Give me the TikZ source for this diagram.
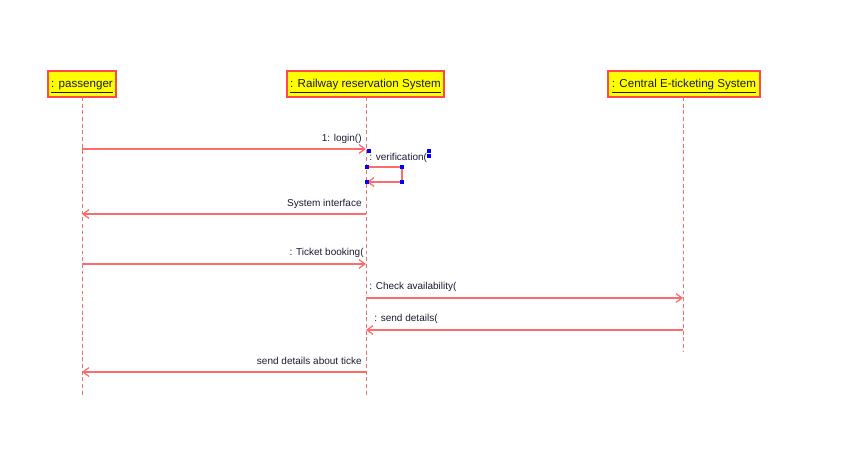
\documentclass[tikz,border=0pt]{standalone}
\usepackage{fontspec}
\setmainfont{Liberation Sans}
\usetikzlibrary{arrows.meta,positioning}
\definecolor{umlred}{HTML}{FF4A4A}
\definecolor{umlline}{HTML}{FF6A6A}
\definecolor{umlyellow}{HTML}{FFFF00}
\definecolor{umlblue}{HTML}{0000FF}
\definecolor{umltext}{HTML}{1A1A33}

\begin{document}
\begin{tikzpicture}[x=0.02cm, y=-0.02cm,
  every node/.style={font=\fontsize{5.7}{7}\selectfont, text=umltext},
  objbox/.style={draw=umlred, fill=umlyellow, line width=0.7pt,
    font=\fontsize{6.6}{8}\selectfont, text height=4.8pt, text depth=1.2pt,
    minimum height=0.52cm, inner sep=1pt},
  lifeline/.style={umlline, line width=0.5pt, dash pattern=on 2.2pt off 1.6pt},
  msg/.style={umlline, line width=0.7pt, -{Straight Barb[length=3.4pt,width=5pt]}},
  msglabel/.style={inner sep=0pt},
  handle/.style={fill=umlblue}]

  % ---- Page frame ----
  \useasboundingbox (0,0) rectangle (852,464);

  % ---- Objects ----
  \node[objbox, minimum width=1.36cm] (pas) at (82,84) {\underline{: passenger}};
  \node[objbox, minimum width=3.14cm] (rrs) at (365.5,84) {\underline{: Railway reservation System}};
  \node[objbox, minimum width=3.04cm] (ces) at (684,84) {\underline{: Central E-ticketing System}};

  % ---- Lifelines ----
  \coordinate (pasEnd) at (82,395);
  \coordinate (rrsEnd) at (366,395);
  \coordinate (cesEnd) at (683,352);
  \draw[lifeline] (82,97) -- (pasEnd);
  \draw[lifeline] (366,97) -- (rrsEnd);
  \draw[lifeline] (683,97) -- (cesEnd);

  % ---- Message anchor points ----
  \coordinate (m1a) at (82,149);   \coordinate (m1b) at (366,149);
  \coordinate (m2a) at (366,214);  \coordinate (m2b) at (82,214);
  \coordinate (m3a) at (82,264);   \coordinate (m3b) at (366,264);
  \coordinate (m4a) at (366,298);  \coordinate (m4b) at (683,298);
  \coordinate (m5a) at (683,330);  \coordinate (m5b) at (366,330);
  \coordinate (m6a) at (366,372);  \coordinate (m6b) at (82,372);

  % ---- Messages ----
  \draw[msg] (m1a) -- (m1b);
  \node[msglabel, anchor=east] at (362,139) {1: login()};

  \draw[msg] (m2a) -- (m2b);
  \node[msglabel, anchor=east] at (362,204) {System interface};

  \draw[msg] (m3a) -- (m3b);
  \node[msglabel, anchor=east] at (364,253) {: Ticket booking(};

  \draw[msg] (m4a) -- (m4b);
  \node[msglabel, anchor=west] at (369,287) {: Check availability(};

  \draw[msg] (m5a) -- (m5b);
  \node[msglabel, anchor=west] at (374,319) {: send details(};

  \draw[msg] (m6a) -- (m6b);
  \node[msglabel, anchor=east] at (362,361) {send details about ticke};

  % ---- Self message (verification) ----
  \coordinate (v1) at (367,167);
  \coordinate (v2) at (402,167);
  \coordinate (v3) at (402,182);
  \coordinate (v4) at (367,182);
  \draw[umlline, line width=0.7pt] (v1) -- (v2) -- (v3);
  \draw[msg] (v3) -- (v4);
  \node[msglabel, anchor=west] (ver) at (369,158) {: verification(};

  % ---- Selection handles ----
  \foreach \hx/\hy in {369/151, 429/151, 429/156, 367/167, 402/167, 367/182, 402/182}{
    \fill[handle] (\hx-1.6,\hy-1.6) rectangle (\hx+1.6,\hy+1.6);
  }

\end{tikzpicture}
\end{document}
